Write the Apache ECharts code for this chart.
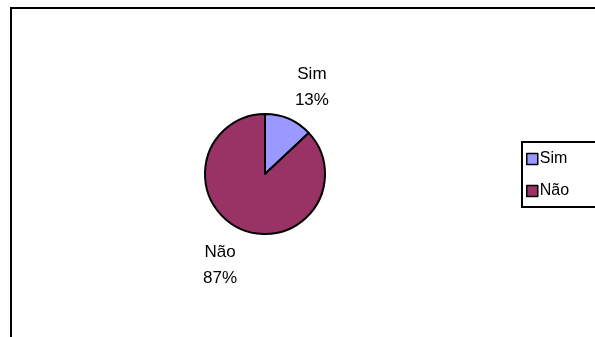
<!DOCTYPE html>
<html>
<head>
<meta charset="utf-8">
<style>
  html, body { margin: 0; padding: 0; background: #fff; }
  #chart { width: 595px; height: 337px; }
</style>
<script src="https://cdn.jsdelivr.net/npm/echarts@6/dist/echarts.min.js"></script>
</head>
<body>
<div id="chart"></div>
<script>
// Answers to the yes/no question
const categories = ['Sim', 'Não'];
const values = [13, 87];
const colors = ['#9999FF', '#993366'];

const FONT = '"Liberation Sans", Arial, Helvetica, sans-serif';
const CENTER = [265, 174];
// small nudges that keep each label clear of its slice
const labelOffsets = [[6, 8], [-4, -3]];

const pieData = categories.map((name, i) => ({
  name: name,
  value: values[i],
  itemStyle: { color: colors[i] }
}));

const chart = echarts.init(document.getElementById('chart'), null, { renderer: 'canvas' });

chart.setOption({
  animation: false,
  backgroundColor: '#ffffff',
  graphic: [{
    type: 'rect',
    shape: { x: 11, y: 8, width: 600, height: 400 },
    style: { fill: 'none', stroke: '#000', lineWidth: 2 },
    silent: true,
    z: 0
  }],
  legend: {
    orient: 'vertical',
    left: 522,
    top: 142,
    data: categories,
    icon: 'rect',
    itemWidth: 11,
    itemHeight: 11,
    itemGap: 14,
    padding: [8, 40, 7, 4],
    borderColor: '#000',
    borderWidth: 2,
    textStyle: { fontFamily: FONT, fontSize: 16, lineHeight: 18, color: '#000', padding: [0, 0, 0, -3] },
    itemStyle: { borderColor: '#000', borderWidth: 1.5 },
    selectedMode: false
  },
  series: [
    {
      // the pie itself
      type: 'pie',
      center: CENTER,
      radius: 60,
      startAngle: 90,
      clockwise: true,
      data: pieData,
      label: { show: false },
      labelLine: { show: false },
      itemStyle: { borderColor: '#000', borderWidth: 2 },
      emphasis: { disabled: true },
      silent: true,
      z: 2
    },
    {
      // ring that carries the category / percentage labels around the pie
      type: 'pie',
      center: CENTER,
      radius: [85, 115],
      startAngle: 90,
      clockwise: true,
      data: pieData.map((d, i) => ({
        name: d.name,
        value: d.value,
        label: { offset: labelOffsets[i] }
      })),
      itemStyle: { color: 'rgba(0,0,0,0)', borderWidth: 0 },
      label: {
        show: true,
        position: 'inside',
        formatter: '{b}\n{d}%',
        color: '#000',
        fontFamily: FONT,
        fontSize: 17,
        lineHeight: 26,
        align: 'center'
      },
      labelLine: { show: false },
      emphasis: { disabled: true },
      legendHoverLink: false,
      silent: true,
      z: 1
    }
  ]
});
</script>
</body>
</html>
